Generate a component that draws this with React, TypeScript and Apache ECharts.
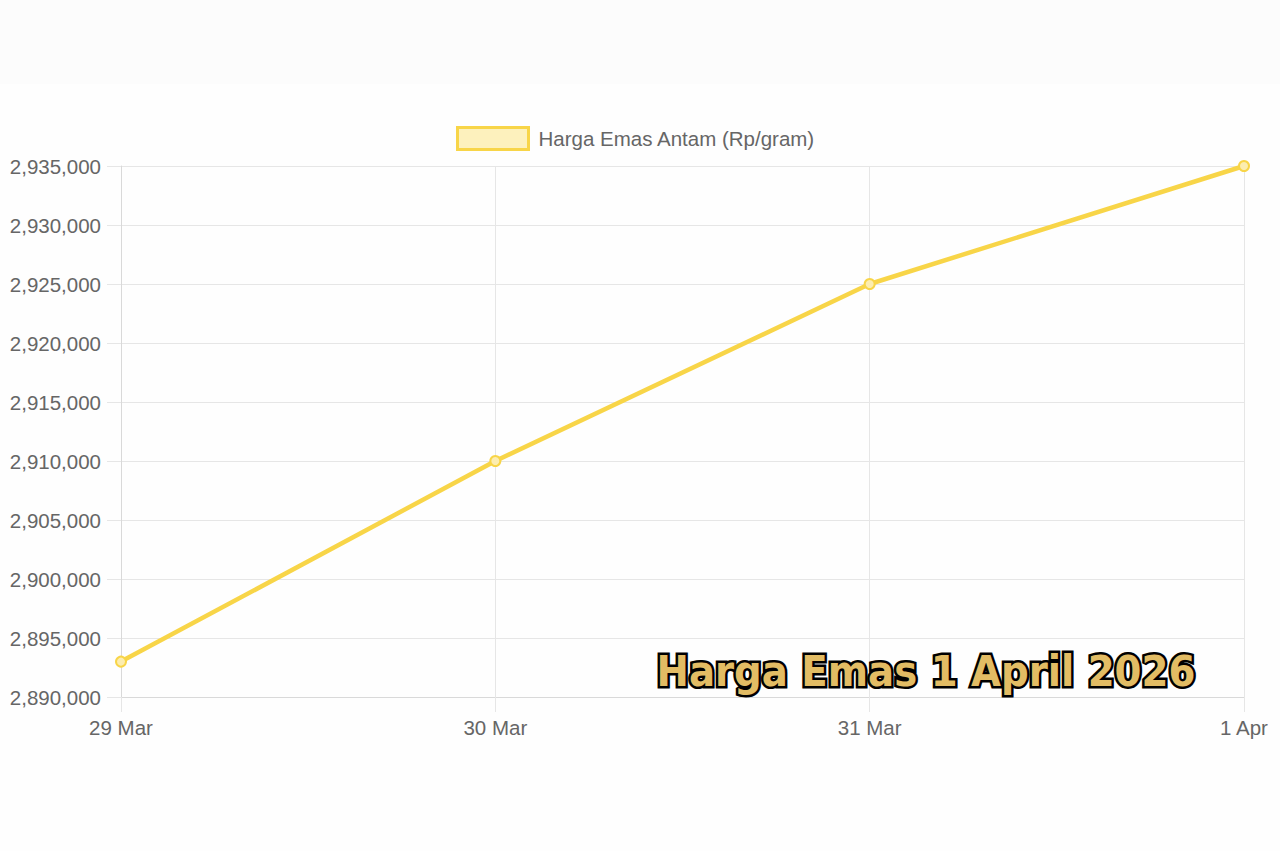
import React, { useEffect, useRef } from 'react';
import * as echarts from 'echarts';

// Данные графика
const categories = ['29 Mar', '30 Mar', '31 Mar', '1 Apr'];
const prices = [2893000, 2910000, 2925000, 2935000];
const seriesName = 'Harga Emas Antam (Rp/gram)';
const watermark = 'Harga Emas 1 April 2026';

const yMin = 2890000;
const yMax = 2935000;
const yStep = 5000;

const gold = '#f8d548';
const gridColor = '#e6e6e6';
const labelColor = '#666666';
const font = '"Liberation Sans", Arial, sans-serif';

const App: React.FC = () => {
  const chartRef = useRef<HTMLDivElement>(null);

  useEffect(() => {
    if (!chartRef.current) return;
    document.body.style.margin = '0';

    const chart = echarts.init(chartRef.current, null, { renderer: 'svg' });

    const option = {
      animation: false,
      backgroundColor: '#fefefe',
      textStyle: { fontFamily: font },
      legend: {
        data: [{ name: seriesName, icon: 'rect' }],
        left: 451,
        top: 121,
        itemWidth: 71,
        itemHeight: 22,
        itemStyle: { color: '#fdf1bd', borderColor: gold, borderWidth: 3 },
        textStyle: { color: labelColor, fontSize: 20.5, padding: [0, 0, 0, 5] },
        selectedMode: false
      },
      grid: { left: 121, right: 36, top: 166, bottom: 154, containLabel: false },
      xAxis: {
        type: 'category',
        data: categories,
        boundaryGap: false,
        axisLine: { show: true, lineStyle: { color: '#d9d9d9', width: 1 } },
        axisTick: { show: true, length: 15, lineStyle: { color: gridColor } },
        splitLine: { show: true, lineStyle: { color: gridColor, width: 1 } },
        axisLabel: { color: labelColor, fontSize: 20.5, margin: 20, fontFamily: font }
      },
      yAxis: {
        type: 'value',
        min: yMin,
        max: yMax,
        interval: yStep,
        axisLine: { show: true, lineStyle: { color: '#d9d9d9', width: 1 } },
        axisTick: { show: true, length: 14, lineStyle: { color: gridColor } },
        splitLine: { show: true, lineStyle: { color: gridColor, width: 1 } },
        axisLabel: {
          color: labelColor,
          fontSize: 20.5,
          margin: 20,
          fontFamily: font,
          formatter: (v: number) => v.toLocaleString('en-US')
        }
      },
      series: [
        {
          name: seriesName,
          type: 'line',
          data: prices,
          symbol: 'circle',
          symbolSize: 10,
          lineStyle: { color: gold, width: 4.5 },
          itemStyle: { color: '#fcedb0', borderColor: gold, borderWidth: 2 }
        }
      ],
      graphic: [
        {
          type: 'rect',
          left: 0,
          top: 0,
          z: -10,
          shape: { width: 1280, height: 84 },
          style: { fill: '#fcfcfc' }
        },
        {
          type: 'text',
          left: 654,
          top: 647,
          z: 101,
          style: {
            text: watermark,
            fill: '#e2bc64',
            stroke: '#000',
            lineWidth: 5,
            strokeFirst: true,
            font: `900 43px "DejaVu Sans Condensed", "DejaVu Sans", sans-serif`,
            shadowColor: '#000',
            shadowBlur: 1,
            shadowOffsetX: 3,
            shadowOffsetY: 3
          }
        }
      ]
    };

    chart.setOption(option as any);

    return () => {
      chart.dispose();
    };
  }, []);

  return <div ref={chartRef} style={{ width: '1280px', height: '851px' }} />;
};

export default App;
